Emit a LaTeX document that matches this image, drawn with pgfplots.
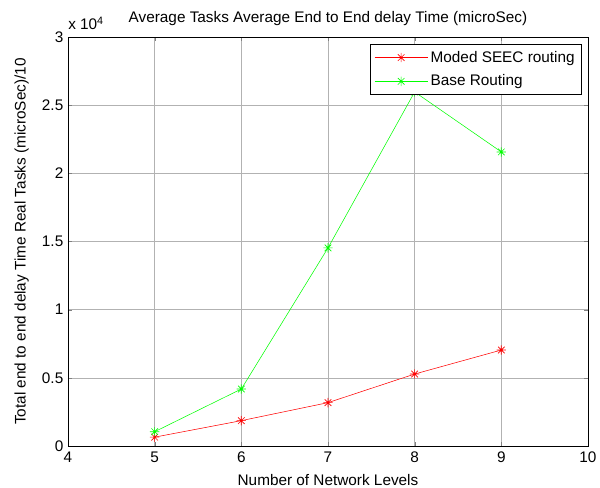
\documentclass[border=0pt]{standalone}
\usepackage{fontspec}
\setmainfont{Liberation Sans}
\usepackage{pgfplots}
\pgfplotsset{compat=1.18}

% MATLAB style '*' marker: plus and cross together
\pgfdeclareplotmark{mstar}{%
  \pgfpathmoveto{\pgfqpoint{-\pgfplotmarksize}{0pt}}%
  \pgfpathlineto{\pgfqpoint{\pgfplotmarksize}{0pt}}%
  \pgfpathmoveto{\pgfqpoint{0pt}{-\pgfplotmarksize}}%
  \pgfpathlineto{\pgfqpoint{0pt}{\pgfplotmarksize}}%
  \pgfpathmoveto{\pgfqpoint{-.707\pgfplotmarksize}{-.707\pgfplotmarksize}}%
  \pgfpathlineto{\pgfqpoint{.707\pgfplotmarksize}{.707\pgfplotmarksize}}%
  \pgfpathmoveto{\pgfqpoint{-.707\pgfplotmarksize}{.707\pgfplotmarksize}}%
  \pgfpathlineto{\pgfqpoint{.707\pgfplotmarksize}{-.707\pgfplotmarksize}}%
  \pgfusepathqstroke}

\begin{document}
\begin{tikzpicture}
  % canvas 600x487 px at 0.75pt/px; axis box 68..588 x 37..446 px
  \path[use as bounding box] (-51pt,-30.75pt) rectangle (399pt,334.5pt);
  \begin{axis}[
    at={(0pt,0pt)}, anchor=south west,
    scale only axis, width=390pt, height=306.75pt,
    clip=false,
    xmin=4, xmax=10, ymin=0, ymax=30000,
    xtick={4,5,...,10},
    ytick={0,5000,10000,15000,20000,25000,30000},
    yticklabels={0,0.5,1,1.5,2,2.5,3},
    scaled y ticks=false,
    grid=major, grid style={gray!60, line width=0.4pt},
    tick align=inside, tick pos=both,
    major tick length=3pt,
    axis line style={black, line width=0.6pt},
    tick label style={font=\fontsize{11.5}{13}\selectfont},
    label style={font=\fontsize{11.5}{13}\selectfont},
    /pgf/number format/assume math mode=true,
    xticklabel style={yshift=-1pt},
    xlabel={Number of Network Levels},
    ylabel={Total end to end delay Time Real Tasks (microSec)/10},
    xlabel style={yshift=-1.5pt},
    ylabel style={yshift=3pt},
    title={Average Tasks Average End to End delay Time (microSec)},
    title style={font=\fontsize{11.5}{13}\selectfont, yshift=-1pt},
    legend style={at={(rel axis cs:0.988,0.983)}, anchor=north east,
      font=\fontsize{11.5}{13}\selectfont, draw=black, line width=0.6pt,
      row sep=4pt, inner sep=3pt},
    legend cell align=left,
    legend image code/.code={%
      \draw[mark repeat=2, mark phase=2, #1]
        plot coordinates {(0cm,0cm) (0.7cm,0cm) (1.4cm,0cm)};},
  ]
  \addplot[red, line width=0.4pt, mark=mstar, mark size=3.5pt,
    mark options={line width=0.5pt}]
    coordinates {(5,650)(6,1860)(7,3180)(8,5280)(9,7040)};
  \addlegendentry{Moded SEEC routing}
  \addplot[green, line width=0.4pt, mark=mstar, mark size=3.5pt,
    mark options={line width=0.5pt}]
    coordinates {(5,1050)(6,4180)(7,14530)(8,25970)(9,21570)};
  \addlegendentry{Base Routing}
  \node[anchor=south west, font=\fontsize{11.5}{13}\selectfont, inner sep=1pt,
    yshift=4pt, xshift=-1pt]
    at (rel axis cs:0,1) {x 10\textsuperscript{4}};
  \end{axis}
\end{tikzpicture}
\end{document}
